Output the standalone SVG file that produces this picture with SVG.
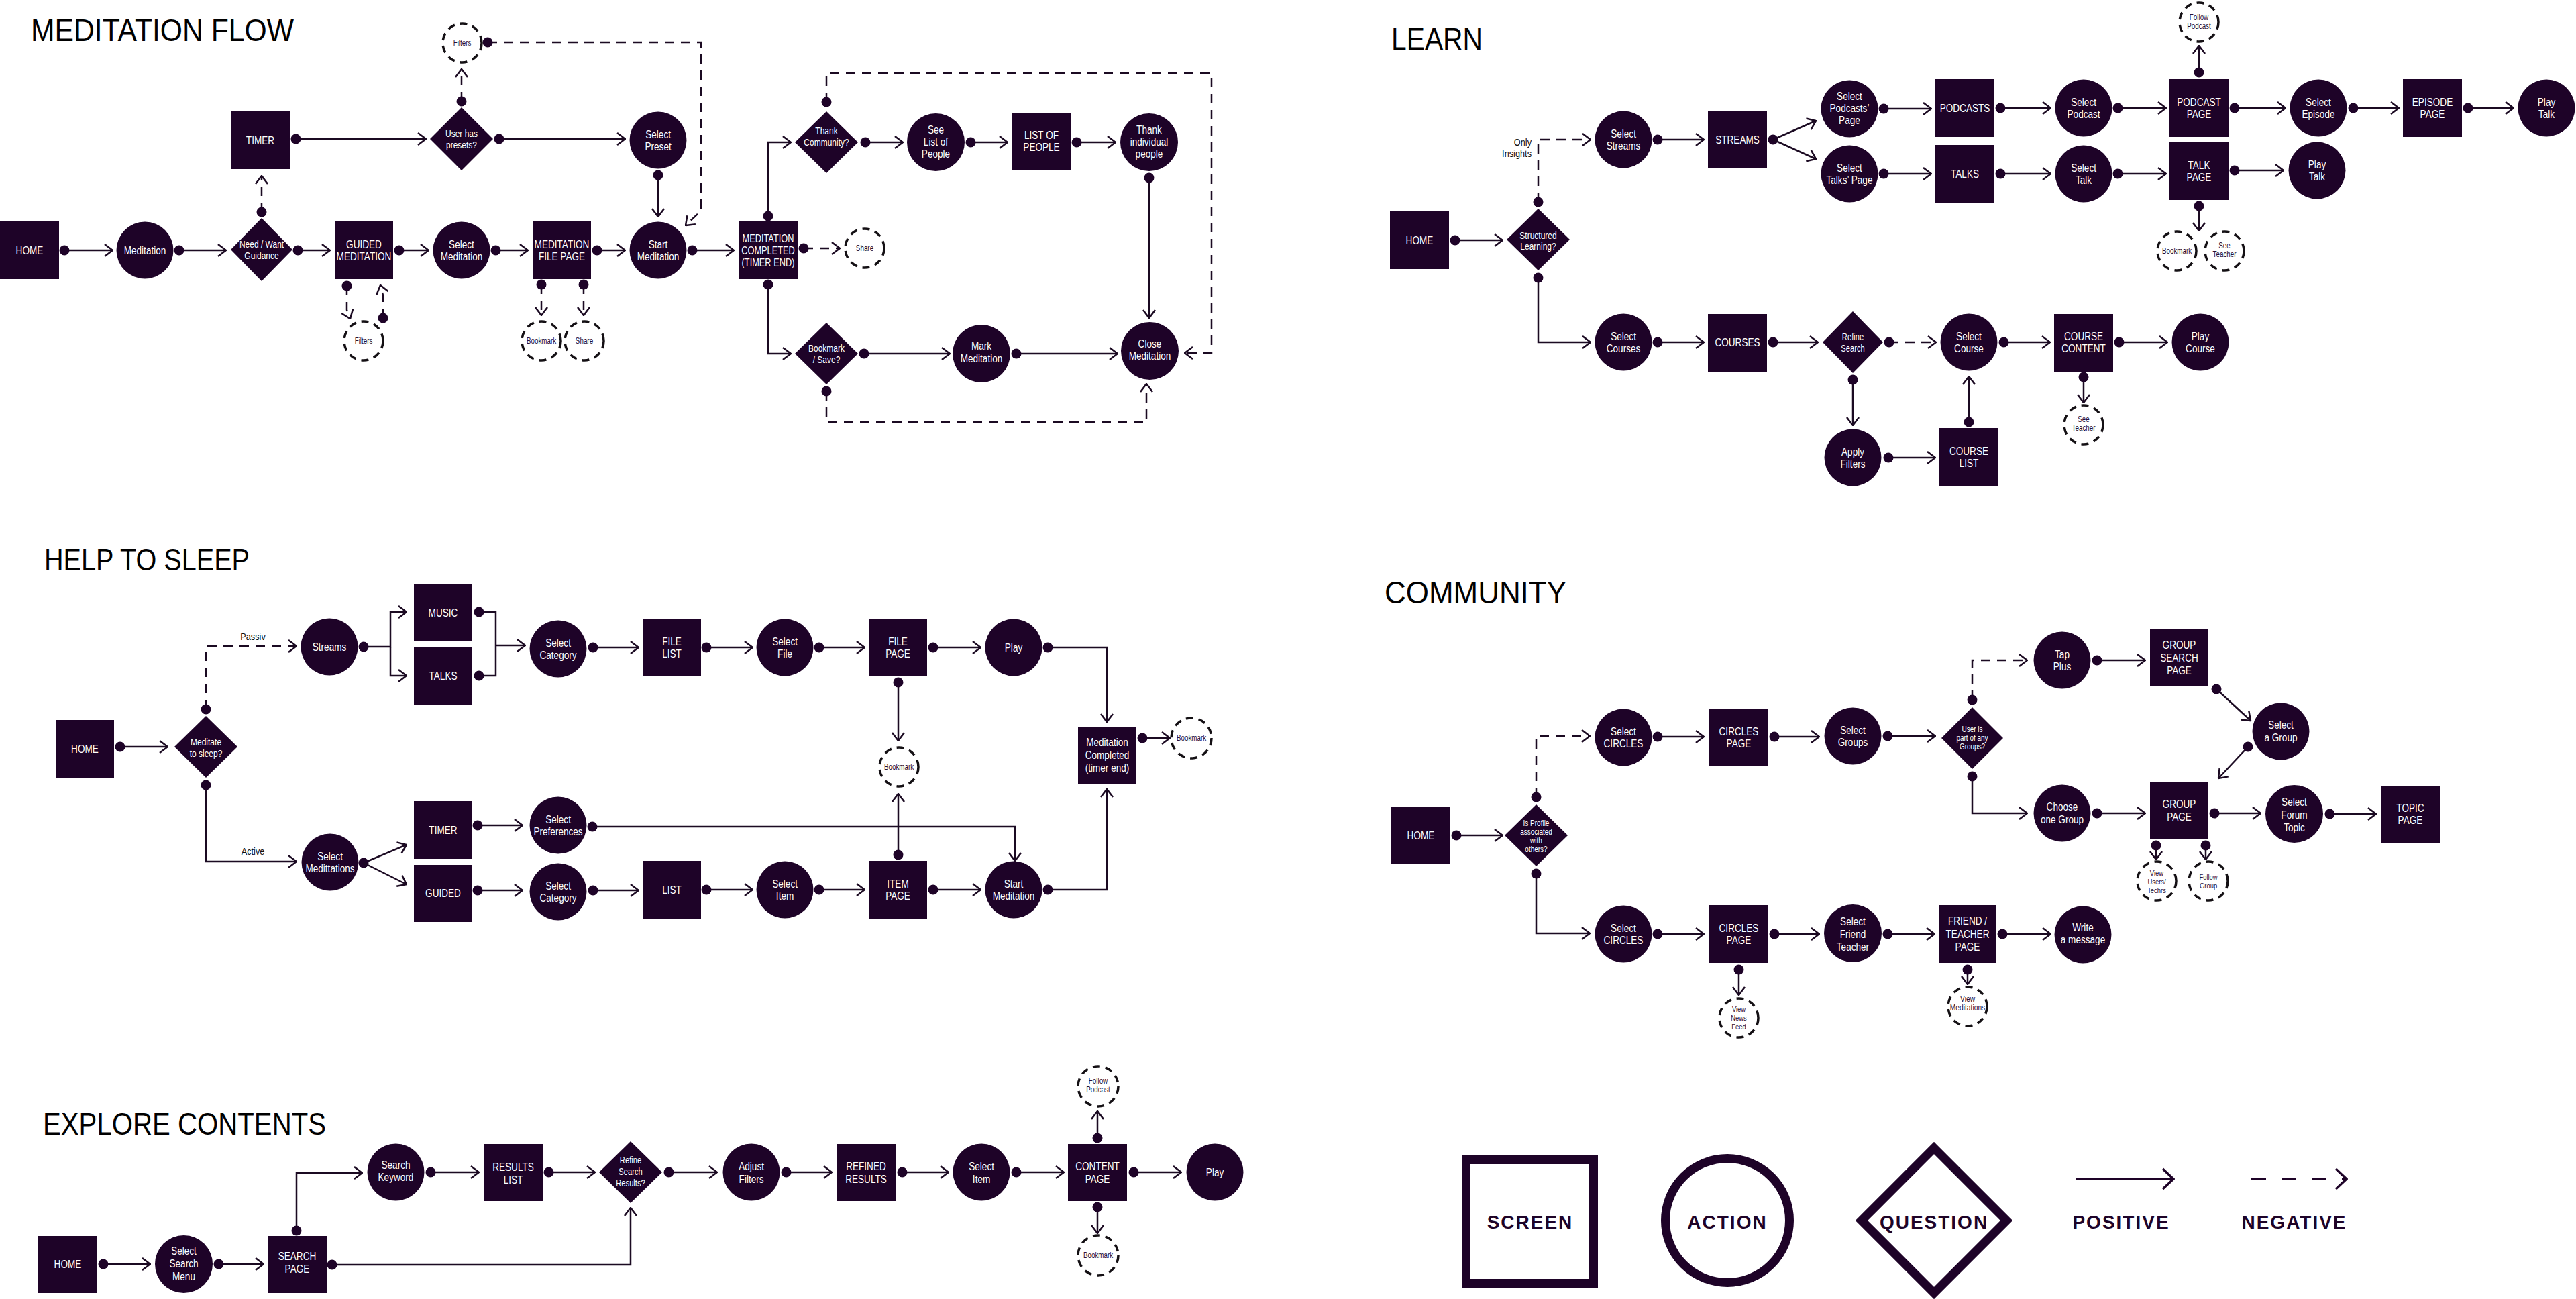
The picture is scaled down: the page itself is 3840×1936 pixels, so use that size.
<svg xmlns="http://www.w3.org/2000/svg" width="3840" height="1936" viewBox="0 0 3840 1936">
<defs>
<style>
.bg{fill:#fff}
.s,.a,.q{fill:#1e0328}
.t{fill:#fff;font-family:"Liberation Sans",Arial,sans-serif;font-size:17px;text-anchor:middle;transform-box:fill-box;transform-origin:center;transform:scaleX(0.8)}
.tq{font-size:15px}
.tqs{font-size:12.5px}
.d{fill:#fff;stroke:#141014;stroke-width:3.5;stroke-dasharray:11 8}
.dt{fill:#2a1036;font-family:"Liberation Sans",Arial,sans-serif;font-size:12px;text-anchor:middle;transform-box:fill-box;transform-origin:center;transform:scaleX(0.82)}
.dt11{font-size:11.5px}
.c{fill:none;stroke:#1b0a22;stroke-width:2.5;marker-start:url(#dot);marker-end:url(#arr)}
.cd{stroke-dasharray:14 10}
.n{marker-start:none}
.e{marker-end:none}
.title{fill:#000;font-family:"Liberation Sans",Arial,sans-serif;font-size:47px}
.lbl{fill:#111;font-family:"Liberation Sans",Arial,sans-serif;font-size:15px;transform-box:fill-box;transform-origin:center;transform:scaleX(0.85)}
.lg{fill:none;stroke:#1e0328;stroke-width:13}
.lgt{fill:#1e0328;font-family:"Liberation Sans",Arial,sans-serif;font-weight:bold;font-size:28px;text-anchor:middle;letter-spacing:2px}
</style>
<marker id="arr" viewBox="0 0 14 20" refX="13" refY="10" markerWidth="14" markerHeight="20" markerUnits="userSpaceOnUse" orient="auto">
<path d="M1,1 L13,10 L1,19" fill="none" stroke="#1b0a22" stroke-width="2.5"/>
</marker>
<marker id="dot" viewBox="-8 -8 16 16" refX="0" refY="0" markerWidth="16" markerHeight="16" markerUnits="userSpaceOnUse">
<circle r="7.5" fill="#1e0328"/>
</marker>
<marker id="arrL" viewBox="0 0 20 34" refX="18" refY="17" markerWidth="20" markerHeight="34" markerUnits="userSpaceOnUse" orient="auto">
<path d="M2,2 L18,17 L2,32" fill="none" stroke="#1e0328" stroke-width="3.5"/>
</marker>
</defs>
<rect class="bg" x="0" y="0" width="3840" height="1936"/>

<!-- TITLES -->
<g id="titles">
<text class="title" x="46" y="61" textLength="392" lengthAdjust="spacingAndGlyphs">MEDITATION FLOW</text>
<text class="title" x="2074" y="74" textLength="136" lengthAdjust="spacingAndGlyphs">LEARN</text>
<text class="title" x="66" y="850" textLength="306" lengthAdjust="spacingAndGlyphs">HELP TO SLEEP</text>
<text class="title" x="2064" y="899" textLength="271" lengthAdjust="spacingAndGlyphs">COMMUNITY</text>
<text class="title" x="64" y="1691" textLength="422" lengthAdjust="spacingAndGlyphs">EXPLORE CONTENTS</text>
</g>

<!-- CONNECTORS -->
<g id="connectors">
<!-- meditation flow -->
<path class="c" d="M96,373 H168"/>
<path class="c" d="M267,373 H337"/>
<path class="c" d="M444,373 H492"/>
<path class="c" d="M595,373 H639"/>
<path class="c" d="M739,373 H787"/>
<path class="c" d="M890,373 H932"/>
<path class="c" d="M1032,373 H1094"/>
<path class="c cd" d="M390,316 V262"/>
<path class="c" d="M441,207 H635"/>
<path class="c" d="M744,207 H932"/>
<path class="c cd" d="M688,151 V103"/>
<path class="c" d="M981,261 V323"/>
<path class="c cd" d="M727,63 H1045 V314 L1022,336"/>
<path class="c cd" d="M517,426 V462 L522,475"/>
<path class="c cd" d="M571,474 V440 L567,425"/>
<path class="c cd" d="M807,424 V470"/>
<path class="c cd" d="M870,424 V470"/>
<path class="c" d="M1145,322 V212 H1179"/>
<path class="c" d="M1290,212 H1346"/>
<path class="c" d="M1447,212 H1502"/>
<path class="c" d="M1605,212 H1663"/>
<path class="c" d="M1713,265 V474"/>
<path class="c" d="M1145,424 V527 H1179"/>
<path class="c" d="M1288,527 H1416"/>
<path class="c" d="M1515,527 H1666"/>
<path class="c cd" d="M1198,370 H1252"/>
<path class="c cd" d="M1232,152 V109 H1806 V526 H1766"/>
<path class="c cd" d="M1232,583 V629 H1709 V572"/>
<!-- learn -->
<path class="c" d="M2169,358 H2240"/>
<path class="c cd" d="M2293,301 V208 H2371"/>
<path class="c" d="M2293,414 V510 H2371"/>
<path class="c" d="M2471,208 H2540"/>
<path class="c" d="M2643,208 L2707,180"/>
<path class="c n" d="M2643,208 L2707,237"/>
<path class="c" d="M2808,162 H2879"/>
<path class="c" d="M2808,259 H2879"/>
<path class="c" d="M2982,161 H3057"/>
<path class="c" d="M3157,161 H3229"/>
<path class="c" d="M3278,108 V68"/>
<path class="c" d="M3331,161 H3407"/>
<path class="c" d="M3508,161 H3576"/>
<path class="c" d="M3679,161 H3747"/>
<path class="c" d="M2982,259 H3057"/>
<path class="c" d="M3157,259 H3229"/>
<path class="c" d="M3331,254 H3404"/>
<path class="c" d="M3278,307 V344"/>
<path class="c" d="M2471,510 H2540"/>
<path class="c" d="M2643,510 H2710"/>
<path class="c cd" d="M2816,510 H2886"/>
<path class="c" d="M2987,510 H3056"/>
<path class="c" d="M3159,510 H3231"/>
<path class="c" d="M3106,562 V600"/>
<path class="c" d="M2762,566 V634"/>
<path class="c" d="M2815,682 H2885"/>
<path class="c" d="M2935,629 V561"/>
<!-- help to sleep -->
<path class="c" d="M179,1113 H250"/>
<path class="c cd" d="M307,1057 V963 H442"/>
<path class="c" d="M307,1170 V1284 H442"/>
<path class="c" d="M542,964 H582 V912 H606"/>
<path class="c n" d="M582,964 V1007 H606"/>
<path class="c e" d="M714,912 H739 V962"/>
<path class="c e" d="M714,1007 H739 V962"/>
<path class="c n" d="M739,962 H783"/>
<path class="c" d="M884,965 H952"/>
<path class="c" d="M1053,965 H1122"/>
<path class="c" d="M1221,965 H1289"/>
<path class="c" d="M1391,965 H1462"/>
<path class="c" d="M1562,965 H1650 V1076"/>
<path class="c" d="M1703,1100 H1744"/>
<path class="c" d="M1339,1017 V1104"/>
<path class="c" d="M1339,1274 V1183"/>
<path class="c" d="M542,1286 L606,1259"/>
<path class="c n" d="M542,1286 L606,1318"/>
<path class="c" d="M712,1230 H779"/>
<path class="c" d="M883,1232 H1513 V1283"/>
<path class="c" d="M712,1327 H779"/>
<path class="c" d="M884,1327 H952"/>
<path class="c" d="M1053,1326 H1122"/>
<path class="c" d="M1221,1326 H1289"/>
<path class="c" d="M1391,1326 H1462"/>
<path class="c" d="M1562,1326 H1650 V1176"/>
<!-- community -->
<path class="c" d="M2171,1245 H2240"/>
<path class="c cd" d="M2290,1188 V1097 H2370"/>
<path class="c" d="M2290,1302 V1391 H2370"/>
<path class="c" d="M2471,1098 H2540"/>
<path class="c" d="M2645,1098 H2712"/>
<path class="c" d="M2814,1097 H2885"/>
<path class="c cd" d="M2940,1043 V984 H3022"/>
<path class="c" d="M3126,984 H3198"/>
<path class="c" d="M3304,1027 L3355,1074"/>
<path class="c" d="M3351,1113 L3307,1160"/>
<path class="c" d="M2940,1157 V1212 H3022"/>
<path class="c" d="M3126,1212 H3198"/>
<path class="c" d="M3301,1212 H3370"/>
<path class="c" d="M3473,1213 H3542"/>
<path class="c" d="M3214,1260 V1281"/>
<path class="c" d="M3288,1260 V1281"/>
<path class="c" d="M2471,1392 H2540"/>
<path class="c" d="M2645,1392 H2712"/>
<path class="c" d="M2814,1392 H2884"/>
<path class="c" d="M2985,1392 H3057"/>
<path class="c" d="M2592,1445 V1483"/>
<path class="c" d="M2933,1445 V1467"/>
<!-- explore -->
<path class="c" d="M154,1884 H224"/>
<path class="c" d="M326,1884 H393"/>
<path class="c" d="M442,1834 V1748 H540"/>
<path class="c" d="M642,1747 H714"/>
<path class="c" d="M818,1747 H887"/>
<path class="c" d="M997,1747 H1069"/>
<path class="c" d="M1172,1747 H1240"/>
<path class="c" d="M1345,1747 H1414"/>
<path class="c" d="M1515,1747 H1586"/>
<path class="c" d="M1690,1747 H1761"/>
<path class="c" d="M495,1885 H940 V1800"/>
<path class="c" d="M1636,1696 V1656"/>
<path class="c" d="M1636,1799 V1838"/>
</g>

<!-- ===== MEDITATION FLOW NODES ===== -->
<g id="mf-home"><rect class="s" x="0" y="330" width="88" height="86"/><text class="t" x="44" y="379">HOME</text></g>
<g id="mf-meditation"><circle class="a" cx="216" cy="373" r="42.5"/><text class="t" x="216" y="379">Meditation</text></g>
<g id="mf-need"><polygon class="q" points="390,325 436,372 390,419 344,372"/><text class="t tq"><tspan x="390" y="369">Need / Want</tspan><tspan x="390" y="386">Guidance</tspan></text></g>
<g id="mf-guided"><rect class="s" x="499" y="330" width="87" height="86"/><text class="t"><tspan x="542.5" y="370">GUIDED</tspan><tspan x="542.5" y="388">MEDITATION</tspan></text></g>
<g id="mf-selectmed"><circle class="a" cx="688" cy="373" r="42.5"/><text class="t"><tspan x="688" y="370">Select</tspan><tspan x="688" y="388">Meditation</tspan></text></g>
<g id="mf-filepage"><rect class="s" x="794" y="330" width="87" height="86"/><text class="t"><tspan x="837.5" y="370">MEDITATION</tspan><tspan x="837.5" y="388">FILE PAGE</tspan></text></g>
<g id="mf-start"><circle class="a" cx="981" cy="373" r="42.5"/><text class="t"><tspan x="981" y="370">Start</tspan><tspan x="981" y="388">Meditation</tspan></text></g>
<g id="mf-timer"><rect class="s" x="344" y="166" width="88" height="86"/><text class="t" x="388" y="215">TIMER</text></g>
<g id="mf-presets"><polygon class="q" points="688,160 735,207 688,254 641,207"/><text class="t tq"><tspan x="688" y="204">User has</tspan><tspan x="688" y="221">presets?</tspan></text></g>
<g id="mf-preset"><circle class="a" cx="981" cy="209" r="42.5"/><text class="t"><tspan x="981" y="206">Select</tspan><tspan x="981" y="224">Preset</tspan></text></g>
<g id="mf-filters1"><circle class="d" cx="689" cy="64" r="29"/><text class="dt" x="689" y="68">Filters</text></g>
<g id="mf-filters2"><circle class="d" cx="542" cy="508" r="29"/><text class="dt" x="542" y="512">Filters</text></g>
<g id="mf-bookmark"><circle class="d" cx="807" cy="508" r="29"/><text class="dt" x="807" y="512">Bookmark</text></g>
<g id="mf-share"><circle class="d" cx="871" cy="508" r="29"/><text class="dt" x="871" y="512">Share</text></g>
<g id="mf-completed"><rect class="s" x="1101" y="330" width="88" height="86"/><text class="t" style="font-size:16px"><tspan x="1145" y="361">MEDITATION</tspan><tspan x="1145" y="379">COMPLETED</tspan><tspan x="1145" y="397">(TIMER END)</tspan></text></g>
<g id="mf-share2"><circle class="d" cx="1289" cy="370" r="29"/><text class="dt" x="1289" y="374">Share</text></g>
<g id="mf-thank"><polygon class="q" points="1232,166 1279,212 1232,258 1185,212"/><text class="t tq"><tspan x="1232" y="200">Thank</tspan><tspan x="1232" y="217">Community?</tspan></text></g>
<g id="mf-seelist"><circle class="a" cx="1395" cy="212" r="43"/><text class="t"><tspan x="1395" y="199">See</tspan><tspan x="1395" y="217">List of</tspan><tspan x="1395" y="235">People</tspan></text></g>
<g id="mf-listpeople"><rect class="s" x="1509" y="168" width="87" height="86"/><text class="t"><tspan x="1552.5" y="207">LIST OF</tspan><tspan x="1552.5" y="225">PEOPLE</tspan></text></g>
<g id="mf-thankind"><circle class="a" cx="1713" cy="212" r="43"/><text class="t"><tspan x="1713" y="199">Thank</tspan><tspan x="1713" y="217">individual</tspan><tspan x="1713" y="235">people</tspan></text></g>
<g id="mf-close"><circle class="a" cx="1714" cy="523" r="43"/><text class="t"><tspan x="1714" y="518">Close</tspan><tspan x="1714" y="536">Meditation</tspan></text></g>
<g id="mf-bookmarksave"><polygon class="q" points="1232,481 1279,527 1232,573 1185,527"/><text class="t tq"><tspan x="1232" y="524">Bookmark</tspan><tspan x="1232" y="541">/ Save?</tspan></text></g>
<g id="mf-mark"><circle class="a" cx="1463" cy="527" r="43"/><text class="t"><tspan x="1463" y="521">Mark</tspan><tspan x="1463" y="540">Meditation</tspan></text></g>

<!-- ===== LEARN NODES ===== -->
<g id="l-home"><rect class="s" x="2072" y="315" width="88" height="86"/><text class="t" x="2116" y="364">HOME</text></g>
<g id="l-structured"><polygon class="q" points="2293,311 2340,357 2293,403 2246,357"/><text class="t tq"><tspan x="2293" y="356">Structured</tspan><tspan x="2293" y="372">Learning?</tspan></text></g>
<text class="lbl" style="text-anchor:end;transform-origin:right center"><tspan x="2283" y="217">Only</tspan><tspan x="2283" y="234">Insights</tspan></text>
<g id="l-selstreams"><circle class="a" cx="2420" cy="208" r="42.5"/><text class="t"><tspan x="2420" y="205">Select</tspan><tspan x="2420" y="223">Streams</tspan></text></g>
<g id="l-streams"><rect class="s" x="2546" y="165" width="88" height="86"/><text class="t" x="2590" y="214">STREAMS</text></g>
<g id="l-selpodcasts"><circle class="a" cx="2757" cy="162" r="42.5"/><text class="t"><tspan x="2757" y="149">Select</tspan><tspan x="2757" y="167">Podcasts’</tspan><tspan x="2757" y="185">Page</tspan></text></g>
<g id="l-seltalks"><circle class="a" cx="2757" cy="259" r="42.5"/><text class="t"><tspan x="2757" y="256">Select</tspan><tspan x="2757" y="274">Talks’ Page</tspan></text></g>
<g id="l-podcasts"><rect class="s" x="2885" y="118" width="88" height="86"/><text class="t" x="2929" y="167">PODCASTS</text></g>
<g id="l-talks"><rect class="s" x="2885" y="216" width="88" height="86"/><text class="t" x="2929" y="265">TALKS</text></g>
<g id="l-selpodcast"><circle class="a" cx="3106" cy="161" r="42.5"/><text class="t"><tspan x="3106" y="158">Select</tspan><tspan x="3106" y="176">Podcast</tspan></text></g>
<g id="l-seltalk"><circle class="a" cx="3106" cy="259" r="42.5"/><text class="t"><tspan x="3106" y="256">Select</tspan><tspan x="3106" y="274">Talk</tspan></text></g>
<g id="l-podcastpage"><rect class="s" x="3234" y="118" width="88" height="86"/><text class="t"><tspan x="3278" y="158">PODCAST</tspan><tspan x="3278" y="176">PAGE</tspan></text></g>
<g id="l-talkpage"><rect class="s" x="3234" y="212" width="88" height="86"/><text class="t"><tspan x="3278" y="252">TALK</tspan><tspan x="3278" y="270">PAGE</tspan></text></g>
<g id="l-followpodcast"><circle class="d" cx="3278" cy="33" r="29"/><text class="dt"><tspan x="3278" y="30">Follow</tspan><tspan x="3278" y="43">Podcast</tspan></text></g>
<g id="l-selepisode"><circle class="a" cx="3456" cy="161" r="42.5"/><text class="t"><tspan x="3456" y="158">Select</tspan><tspan x="3456" y="176">Episode</tspan></text></g>
<g id="l-episodepage"><rect class="s" x="3582" y="118" width="88" height="86"/><text class="t"><tspan x="3626" y="158">EPISODE</tspan><tspan x="3626" y="176">PAGE</tspan></text></g>
<g id="l-playtalk1"><circle class="a" cx="3796" cy="161" r="42.5"/><text class="t"><tspan x="3796" y="158">Play</tspan><tspan x="3796" y="176">Talk</tspan></text></g>
<g id="l-playtalk2"><circle class="a" cx="3454" cy="254" r="42.5"/><text class="t"><tspan x="3454" y="251">Play</tspan><tspan x="3454" y="269">Talk</tspan></text></g>
<g id="l-bookmark"><circle class="d" cx="3245" cy="374" r="29"/><text class="dt" x="3245" y="378">Bookmark</text></g>
<g id="l-seeteacher1"><circle class="d" cx="3316" cy="374" r="29"/><text class="dt"><tspan x="3316" y="370">See</tspan><tspan x="3316" y="383">Teacher</tspan></text></g>
<g id="l-selcourses"><circle class="a" cx="2420" cy="510" r="42.5"/><text class="t"><tspan x="2420" y="507">Select</tspan><tspan x="2420" y="525">Courses</tspan></text></g>
<g id="l-courses"><rect class="s" x="2546" y="468" width="88" height="86"/><text class="t" x="2590" y="516">COURSES</text></g>
<g id="l-refine"><polygon class="q" points="2762,464 2807,510 2762,556 2717,510"/><text class="t" style="font-size:14px"><tspan x="2762" y="507">Refine</tspan><tspan x="2762" y="524">Search</tspan></text></g>
<g id="l-selcourse"><circle class="a" cx="2935" cy="510" r="42.5"/><text class="t"><tspan x="2935" y="507">Select</tspan><tspan x="2935" y="525">Course</tspan></text></g>
<g id="l-coursecontent"><rect class="s" x="3062" y="468" width="88" height="86"/><text class="t"><tspan x="3106" y="507">COURSE</tspan><tspan x="3106" y="525">CONTENT</tspan></text></g>
<g id="l-playcourse"><circle class="a" cx="3280" cy="510" r="42.5"/><text class="t"><tspan x="3280" y="507">Play</tspan><tspan x="3280" y="525">Course</tspan></text></g>
<g id="l-seeteacher2"><circle class="d" cx="3106" cy="633" r="29"/><text class="dt"><tspan x="3106" y="629">See</tspan><tspan x="3106" y="642">Teacher</tspan></text></g>
<g id="l-applyfilters"><circle class="a" cx="2762" cy="682" r="42.5"/><text class="t"><tspan x="2762" y="679">Apply</tspan><tspan x="2762" y="697">Filters</tspan></text></g>
<g id="l-courselist"><rect class="s" x="2891" y="638" width="88" height="86"/><text class="t"><tspan x="2935" y="678">COURSE</tspan><tspan x="2935" y="696">LIST</tspan></text></g>

<!-- ===== HELP TO SLEEP NODES ===== -->
<g id="h-home"><rect class="s" x="83" y="1073" width="87" height="86"/><text class="t" x="126.5" y="1122">HOME</text></g>
<g id="h-meditate"><polygon class="q" points="307,1067 354,1113 307,1159 260,1113"/><text class="t tq"><tspan x="307" y="1111">Meditate</tspan><tspan x="307" y="1128">to sleep?</tspan></text></g>
<text class="lbl" x="377" y="954" style="text-anchor:middle">Passiv</text>
<text class="lbl" x="377" y="1274" style="text-anchor:middle">Active</text>
<g id="h-streams"><circle class="a" cx="491" cy="964" r="42.5"/><text class="t" x="491" y="970">Streams</text></g>
<g id="h-music"><rect class="s" x="617" y="870" width="87" height="85"/><text class="t" x="660.5" y="919">MUSIC</text></g>
<g id="h-talks"><rect class="s" x="617" y="965" width="87" height="85"/><text class="t" x="660.5" y="1013">TALKS</text></g>
<g id="h-selcat1"><circle class="a" cx="832" cy="967" r="42.5"/><text class="t"><tspan x="832" y="964">Select</tspan><tspan x="832" y="982">Category</tspan></text></g>
<g id="h-filelist"><rect class="s" x="958" y="922" width="87" height="86"/><text class="t"><tspan x="1001.5" y="962">FILE</tspan><tspan x="1001.5" y="980">LIST</tspan></text></g>
<g id="h-selfile"><circle class="a" cx="1170" cy="965" r="42.5"/><text class="t"><tspan x="1170" y="962">Select</tspan><tspan x="1170" y="980">File</tspan></text></g>
<g id="h-filepage"><rect class="s" x="1295" y="922" width="87" height="86"/><text class="t"><tspan x="1338.5" y="962">FILE</tspan><tspan x="1338.5" y="980">PAGE</tspan></text></g>
<g id="h-play"><circle class="a" cx="1511" cy="965" r="42.5"/><text class="t" x="1511" y="971">Play</text></g>
<g id="h-completed"><rect class="s" x="1607" y="1083" width="87" height="85"/><text class="t"><tspan x="1650.5" y="1112">Meditation</tspan><tspan x="1650.5" y="1131">Completed</tspan><tspan x="1650.5" y="1150">(timer end)</tspan></text></g>
<g id="h-bookmark1"><circle class="d" cx="1776" cy="1100" r="30"/><text class="dt" x="1776" y="1104">Bookmark</text></g>
<g id="h-bookmark2"><circle class="d" cx="1340" cy="1143" r="29"/><text class="dt" x="1340" y="1147">Bookmark</text></g>
<g id="h-selmed"><circle class="a" cx="492" cy="1285" r="42.5"/><text class="t"><tspan x="492" y="1282">Select</tspan><tspan x="492" y="1300">Medittations</tspan></text></g>
<g id="h-timer"><rect class="s" x="617" y="1194" width="87" height="86"/><text class="t" x="660.5" y="1243">TIMER</text></g>
<g id="h-guided"><rect class="s" x="617" y="1289" width="87" height="85"/><text class="t" x="660.5" y="1337">GUIDED</text></g>
<g id="h-selpref"><circle class="a" cx="832" cy="1230" r="42.5"/><text class="t"><tspan x="832" y="1227">Select</tspan><tspan x="832" y="1245">Preferences</tspan></text></g>
<g id="h-selcat2"><circle class="a" cx="832" cy="1329" r="42.5"/><text class="t"><tspan x="832" y="1326">Select</tspan><tspan x="832" y="1344">Category</tspan></text></g>
<g id="h-list"><rect class="s" x="958" y="1283" width="87" height="86"/><text class="t" x="1001.5" y="1332">LIST</text></g>
<g id="h-selitem"><circle class="a" cx="1170" cy="1326" r="42.5"/><text class="t"><tspan x="1170" y="1323">Select</tspan><tspan x="1170" y="1341">Item</tspan></text></g>
<g id="h-itempage"><rect class="s" x="1295" y="1283" width="87" height="86"/><text class="t"><tspan x="1338.5" y="1323">ITEM</tspan><tspan x="1338.5" y="1341">PAGE</tspan></text></g>
<g id="h-start"><circle class="a" cx="1511" cy="1326" r="42.5"/><text class="t"><tspan x="1511" y="1323">Start</tspan><tspan x="1511" y="1341">Meditation</tspan></text></g>

<!-- ===== COMMUNITY NODES ===== -->
<g id="c-home"><rect class="s" x="2074" y="1202" width="88" height="85"/><text class="t" x="2118" y="1251">HOME</text></g>
<g id="c-profile"><polygon class="q" points="2290,1199 2337,1245 2290,1291 2243,1245"/><text class="t tqs"><tspan x="2290" y="1231">Is Profile</tspan><tspan x="2290" y="1244">associated</tspan><tspan x="2290" y="1257">with</tspan><tspan x="2290" y="1270">others?</tspan></text></g>
<g id="c-selcircles1"><circle class="a" cx="2420" cy="1099" r="42.5"/><text class="t"><tspan x="2420" y="1096">Select</tspan><tspan x="2420" y="1114">CIRCLES</tspan></text></g>
<g id="c-circlespage1"><rect class="s" x="2548" y="1056" width="88" height="85"/><text class="t"><tspan x="2592" y="1096">CIRCLES</tspan><tspan x="2592" y="1114">PAGE</tspan></text></g>
<g id="c-selgroups"><circle class="a" cx="2762" cy="1097" r="42.5"/><text class="t"><tspan x="2762" y="1094">Select</tspan><tspan x="2762" y="1112">Groups</tspan></text></g>
<g id="c-usergroups"><polygon class="q" points="2940,1054 2986,1100 2940,1146 2894,1100"/><text class="t tqs"><tspan x="2940" y="1091">User is</tspan><tspan x="2940" y="1104">part of any</tspan><tspan x="2940" y="1117">Groups?</tspan></text></g>
<g id="c-tapplus"><circle class="a" cx="3074" cy="984" r="42.5"/><text class="t"><tspan x="3074" y="981">Tap</tspan><tspan x="3074" y="999">Plus</tspan></text></g>
<g id="c-groupsearch"><rect class="s" x="3205" y="937" width="87" height="85"/><text class="t"><tspan x="3248.5" y="967">GROUP</tspan><tspan x="3248.5" y="986">SEARCH</tspan><tspan x="3248.5" y="1005">PAGE</tspan></text></g>
<g id="c-selagroup"><circle class="a" cx="3400" cy="1090" r="42.5"/><text class="t"><tspan x="3400" y="1086">Select</tspan><tspan x="3400" y="1105">a Group</tspan></text></g>
<g id="c-chooseone"><circle class="a" cx="3074" cy="1212" r="42.5"/><text class="t"><tspan x="3074" y="1208">Choose</tspan><tspan x="3074" y="1227">one Group</tspan></text></g>
<g id="c-grouppage"><rect class="s" x="3205" y="1166" width="87" height="85"/><text class="t"><tspan x="3248.5" y="1204">GROUP</tspan><tspan x="3248.5" y="1223">PAGE</tspan></text></g>
<g id="c-selforum"><circle class="a" cx="3420" cy="1213" r="43"/><text class="t"><tspan x="3420" y="1201">Select</tspan><tspan x="3420" y="1220">Forum</tspan><tspan x="3420" y="1239">Topic</tspan></text></g>
<g id="c-topicpage"><rect class="s" x="3549" y="1172" width="88" height="85"/><text class="t"><tspan x="3593" y="1210">TOPIC</tspan><tspan x="3593" y="1228">PAGE</tspan></text></g>
<g id="c-viewusers"><circle class="d" cx="3215" cy="1313" r="29"/><text class="dt dt11"><tspan x="3215" y="1305">View</tspan><tspan x="3215" y="1318">Users/</tspan><tspan x="3215" y="1331">Techrs</tspan></text></g>
<g id="c-followgroup"><circle class="d" cx="3292" cy="1313" r="29"/><text class="dt dt11"><tspan x="3292" y="1311">Follow</tspan><tspan x="3292" y="1324">Group</tspan></text></g>
<g id="c-selcircles2"><circle class="a" cx="2420" cy="1392" r="42.5"/><text class="t"><tspan x="2420" y="1389">Select</tspan><tspan x="2420" y="1407">CIRCLES</tspan></text></g>
<g id="c-circlespage2"><rect class="s" x="2548" y="1349" width="88" height="86"/><text class="t"><tspan x="2592" y="1389">CIRCLES</tspan><tspan x="2592" y="1407">PAGE</tspan></text></g>
<g id="c-selfriend"><circle class="a" cx="2762" cy="1391" r="43"/><text class="t"><tspan x="2762" y="1379">Select</tspan><tspan x="2762" y="1398">Friend</tspan><tspan x="2762" y="1417">Teacher</tspan></text></g>
<g id="c-friendpage"><rect class="s" x="2891" y="1349" width="84" height="86"/><text class="t"><tspan x="2933" y="1378">FRIEND /</tspan><tspan x="2933" y="1398">TEACHER</tspan><tspan x="2933" y="1417">PAGE</tspan></text></g>
<g id="c-write"><circle class="a" cx="3105" cy="1393" r="42.5"/><text class="t"><tspan x="3105" y="1388">Write</tspan><tspan x="3105" y="1406">a message</tspan></text></g>
<g id="c-newsfeed"><circle class="d" cx="2592" cy="1517" r="29"/><text class="dt dt11"><tspan x="2592" y="1508">View</tspan><tspan x="2592" y="1521">News</tspan><tspan x="2592" y="1534">Feed</tspan></text></g>
<g id="c-viewmed"><circle class="d" cx="2933" cy="1500" r="29"/><text class="dt" style="font-size:12.5px"><tspan x="2933" y="1493">View</tspan><tspan x="2933" y="1506">Meditations</tspan></text></g>

<!-- ===== EXPLORE NODES ===== -->
<g id="e-home"><rect class="s" x="57" y="1842" width="88" height="85"/><text class="t" x="101" y="1890">HOME</text></g>
<g id="e-selsearch"><circle class="a" cx="274" cy="1884" r="43"/><text class="t"><tspan x="274" y="1870">Select</tspan><tspan x="274" y="1889">Search</tspan><tspan x="274" y="1908">Menu</tspan></text></g>
<g id="e-searchpage"><rect class="s" x="399" y="1842" width="88" height="85"/><text class="t"><tspan x="443" y="1878">SEARCH</tspan><tspan x="443" y="1897">PAGE</tspan></text></g>
<g id="e-keyword"><circle class="a" cx="590" cy="1747" r="42.5"/><text class="t"><tspan x="590" y="1742">Search</tspan><tspan x="590" y="1760">Keyword</tspan></text></g>
<g id="e-results"><rect class="s" x="721" y="1705" width="88" height="85"/><text class="t"><tspan x="765" y="1745">RESULTS</tspan><tspan x="765" y="1764">LIST</tspan></text></g>
<g id="e-refine"><polygon class="q" points="940,1701 987,1747 940,1793 893,1747"/><text class="t" style="font-size:14px"><tspan x="940" y="1734">Refine</tspan><tspan x="940" y="1751">Search</tspan><tspan x="940" y="1768">Results?</tspan></text></g>
<g id="e-adjust"><circle class="a" cx="1120" cy="1747" r="42.5"/><text class="t"><tspan x="1120" y="1744">Adjust</tspan><tspan x="1120" y="1763">Filters</tspan></text></g>
<g id="e-refined"><rect class="s" x="1247" y="1705" width="88" height="85"/><text class="t"><tspan x="1291" y="1744">REFINED</tspan><tspan x="1291" y="1763">RESULTS</tspan></text></g>
<g id="e-selitem"><circle class="a" cx="1463" cy="1747" r="42.5"/><text class="t"><tspan x="1463" y="1744">Select</tspan><tspan x="1463" y="1763">Item</tspan></text></g>
<g id="e-content"><rect class="s" x="1592" y="1705" width="88" height="85"/><text class="t"><tspan x="1636" y="1744">CONTENT</tspan><tspan x="1636" y="1763">PAGE</tspan></text></g>
<g id="e-play"><circle class="a" cx="1811" cy="1747" r="42.5"/><text class="t" x="1811" y="1753">Play</text></g>
<g id="e-follow"><circle class="d" cx="1637" cy="1619" r="30"/><text class="dt"><tspan x="1637" y="1615">Follow</tspan><tspan x="1637" y="1628">Podcast</tspan></text></g>
<g id="e-bookmark"><circle class="d" cx="1637" cy="1871" r="30"/><text class="dt" x="1637" y="1875">Bookmark</text></g>

<!-- ===== LEGEND ===== -->
<g id="legend">
<rect class="lg" x="2185.5" y="1728.5" width="190" height="184"/>
<text class="lgt" x="2281" y="1831">SCREEN</text>
<circle class="lg" cx="2575" cy="1819" r="92.5"/>
<text class="lgt" x="2575" y="1831">ACTION</text>
<polygon class="lg" points="2883,1711 2991,1819 2883,1927 2775,1819"/>
<text class="lgt" x="2883" y="1831">QUESTION</text>
<path d="M3095,1757 H3240" fill="none" stroke="#1e0328" stroke-width="4" marker-end="url(#arrL)"/>
<text class="lgt" x="3162" y="1831">POSITIVE</text>
<path d="M3356,1757 H3498" fill="none" stroke="#1e0328" stroke-width="4" stroke-dasharray="22 23" marker-end="url(#arrL)"/>
<text class="lgt" x="3420" y="1831">NEGATIVE</text>
</g>
</svg>
